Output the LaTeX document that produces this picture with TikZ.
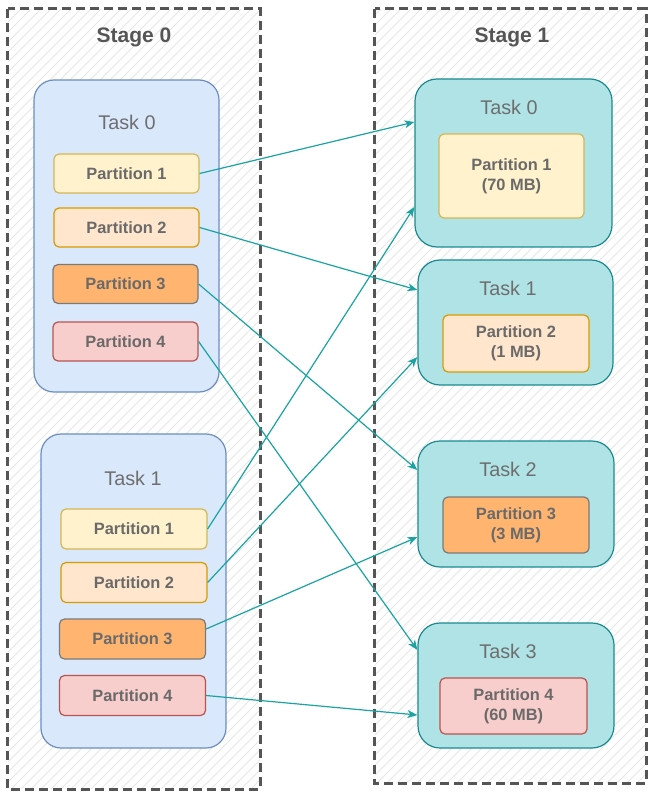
\documentclass[tikz,border=0pt]{standalone}
\usepackage{fontspec}
\setmainfont{Liberation Sans}
\usetikzlibrary{arrows.meta}
\definecolor{hatchc}{HTML}{E6E6E6}
\definecolor{stagec}{HTML}{555555}
\definecolor{ltfill}{HTML}{DAE8FC}
\definecolor{ltdraw}{HTML}{6C8EBF}
\definecolor{rtfill}{HTML}{B0E3E6}
\definecolor{rtdraw}{HTML}{1A8A90}
\definecolor{pafill}{HTML}{FFF2CC}
\definecolor{padraw}{HTML}{D6B656}
\definecolor{pbfill}{HTML}{FFE6CC}
\definecolor{pbdraw}{HTML}{D79B00}
\definecolor{pcfill}{HTML}{FFB570}
\definecolor{pcdraw}{HTML}{7A7A7A}
\definecolor{pdfill}{HTML}{F8CECC}
\definecolor{pddraw}{HTML}{B85450}
\definecolor{arrc}{HTML}{1BA3A3}
\definecolor{txtc}{HTML}{6A6A6A}
\definecolor{tasktxt}{HTML}{6E6E6E}
\tikzset{
  stagebox/.style={draw=stagec, line width=3.2pt, dash pattern=on 9pt off 5pt, inner sep=0pt},
  stagelbl/.style={font=\fontsize{21}{24}\selectfont\bfseries, text=stagec},
  tasklbl/.style={font=\fontsize{19.8}{23}\selectfont, text=tasktxt},
  ltask/.style={draw=ltdraw, fill=ltfill, line width=1.2pt, rounded corners=20pt, inner sep=0pt},
  rtask/.style={draw=rtdraw, fill=rtfill, line width=1.2pt, rounded corners=22pt, inner sep=0pt},
  part/.style={line width=1.2pt, rounded corners=5pt, inner sep=0pt, align=center,
    font=\fontsize{16.4}{20}\selectfont\bfseries, text=txtc},
  pa/.style={part, draw=padraw, fill=pafill},
  pb/.style={part, draw=pbdraw, fill=pbfill},
  pc/.style={part, draw=pcdraw, fill=pcfill},
  pd/.style={part, draw=pddraw, fill=pdfill},
  flow/.style={draw=arrc, line width=1.2pt, -{Stealth[length=10pt, width=8pt, inset=3pt]}},
  hatch/.style={draw=hatchc, line width=0.9pt}
}
\begin{document}
\begin{tikzpicture}[x=1pt, y=-1pt]
\useasboundingbox (0,0) rectangle (658,799);
\fill[white] (0,0) rectangle (658,799);
% stage boxes
\node[minimum width=252pt, minimum height=780pt, inner sep=0pt] (s0) at (134,399) {};
\node[minimum width=271pt, minimum height=774pt, inner sep=0pt] (s1) at (510.5,396) {};
\begin{scope}
  \clip (s0.north west) rectangle (s0.south east) (s1.north west) rectangle (s1.south east);
  \foreach \i in {-800,-790,...,660} { \draw[hatch] (\i,800) -- ++(800,-800); }
\end{scope}
\draw[stagebox] (s0.north west) rectangle (s0.south east);
\draw[stagebox] (s1.north west) rectangle (s1.south east);
\node[stagelbl] (st0) at (134,37) {Stage 0};
\node[stagelbl] (st1) at (512,37) {Stage 1};
% left tasks
\node[ltask, minimum width=185pt, minimum height=312pt] (lt0) at (126.5,236) {};
\node[tasklbl] (lt0l) at (127,122) {Task 0};
\node[pa, minimum width=145pt, minimum height=39pt] (a1) at (126.5,173.5) {Partition 1};
\node[pb, minimum width=145pt, minimum height=39pt] (a2) at (126.5,227.5) {Partition 2};
\node[pc, minimum width=145pt, minimum height=39pt] (a3) at (125.5,284) {Partition 3};
\node[pd, minimum width=145pt, minimum height=39pt] (a4) at (125.5,341.5) {Partition 4};
\node[ltask, minimum width=185pt, minimum height=314pt] (lt1) at (133.5,591) {};
\node[tasklbl] (lt1l) at (133,478) {Task 1};
\node[pa, minimum width=146pt, minimum height=40pt] (b1) at (134,529) {Partition 1};
\node[pb, minimum width=146pt, minimum height=40pt] (b2) at (134,582.5) {Partition 2};
\node[pc, minimum width=146pt, minimum height=40pt] (b3) at (132.5,639) {Partition 3};
\node[pd, minimum width=146pt, minimum height=40pt] (b4) at (132.5,695.5) {Partition 4};
% right tasks
\node[rtask, minimum width=197pt, minimum height=168pt] (r0) at (513.5,163) {};
\node[tasklbl] (r0l) at (509,107) {Task 0};
\node[pa, minimum width=145pt, minimum height=84pt] (c1) at (511.5,176) {Partition 1\\(70 MB)};
\node[rtask, minimum width=195pt, minimum height=125pt] (r1) at (515.5,322.5) {};
\node[tasklbl] (r1l) at (508,288) {Task 1};
\node[pb, minimum width=146pt, minimum height=57pt] (c2) at (516,343.5) {Partition 2\\(1 MB)};
\node[rtask, minimum width=196pt, minimum height=126pt] (r2) at (516,504) {};
\node[tasklbl] (r2l) at (508,469) {Task 2};
\node[pc, minimum width=146pt, minimum height=56pt] (c3) at (516,525) {Partition 3\\(3 MB)};
\node[rtask, minimum width=196pt, minimum height=125pt] (r3) at (516,685.5) {};
\node[tasklbl] (r3l) at (508,651) {Task 3};
\node[pd, minimum width=147pt, minimum height=56pt] (c4) at (513.5,706) {Partition 4\\(60 MB)};
% flows
\draw[flow] (a1.east) -- ([yshift=41pt]r0.west);
\draw[flow] (a2.east) -- ([yshift=32.5pt]r1.west);
\draw[flow] (a3.east) -- ([yshift=34pt]r2.west);
\draw[flow] (a4.east) -- ([yshift=35.5pt]r3.west);
\draw[flow] (b1.east) -- ([yshift=-44pt]r0.west);
\draw[flow] (b2.east) -- ([yshift=-34.5pt]r1.west);
\draw[flow] ([yshift=10pt]b3.east) -- ([yshift=-33pt]r2.west);
\draw[flow] (b4.east) -- ([yshift=-29.5pt]r3.west);
\end{tikzpicture}
\end{document}
